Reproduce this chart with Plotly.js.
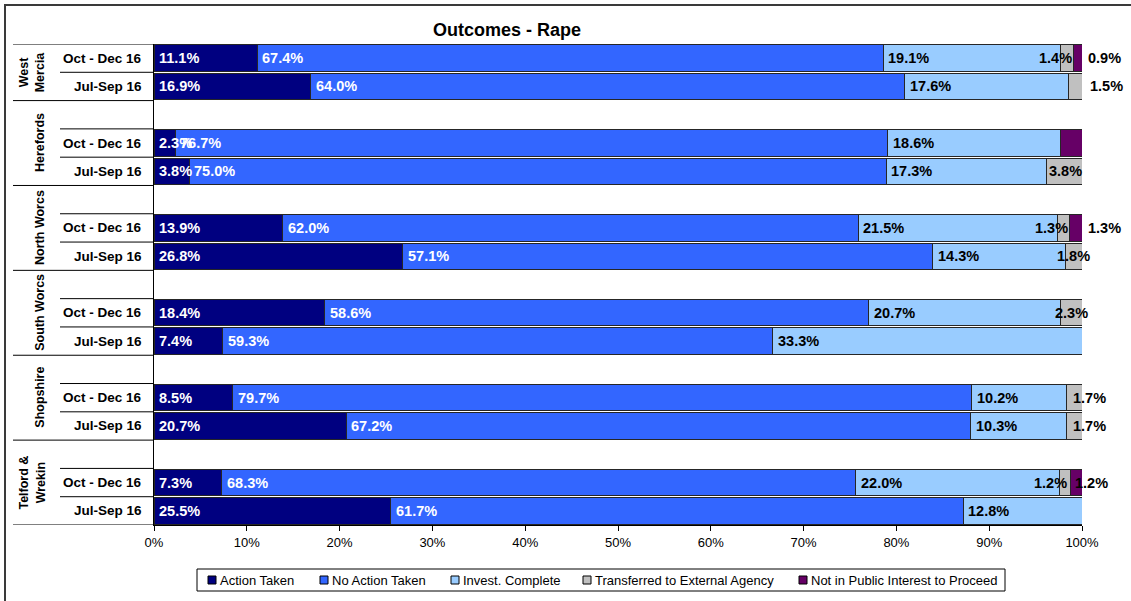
<!DOCTYPE html>
<html>
<head>
<meta charset="utf-8">
<script src="https://cdn.plot.ly/plotly-3.0.1.min.js"></script>
<style>
  html, body { margin: 0; padding: 0; background: #ffffff; }
  #chart { width: 1131px; height: 601px; }
</style>
</head>
<body>
<div id="chart"></div>
<script>
// ---------------- DATA ----------------
const chartTitle = "Outcomes - Rape";
const groups = ["West Mercia", "Herefords", "North Worcs", "South Worcs", "Shopshire", "Telford & Wrekin"];
const groupLabels = ["West<br>Mercia", "Herefords", "North Worcs", "South Worcs", "Shopshire", "Telford &<br>Wrekin"];
const periods = ["Oct - Dec 16", "Jul-Sep 16"];
const seriesNames = ["Action Taken", "No Action Taken", "Invest. Complete", "Transferred to External Agency", "Not in Public Interest to Proceed"];
// rows: for each group, Oct - Dec 16 then Jul-Sep 16
const actionTaken       = [11.1, 16.9,  2.3,  3.8, 13.9, 26.8, 18.4,  7.4,  8.5, 20.7,  7.3, 25.5];
const noActionTaken     = [67.4, 64.0, 76.7, 75.0, 62.0, 57.1, 58.6, 59.3, 79.7, 67.2, 68.3, 61.7];
const investComplete    = [19.1, 17.6, 18.6, 17.3, 21.5, 14.3, 20.7, 33.3, 10.2, 10.3, 22.0, 12.8];
const transferred       = [ 1.4,  1.5,  0.0,  3.8,  1.3,  1.8,  2.3,  0.0,  1.7,  1.7,  1.2,  0.0];
const notPublicInterest = [ 0.9,  0.0,  2.3,  0.0,  1.3,  0.0,  0.0,  0.0,  0.0,  0.0,  1.2,  0.0];
const xTickValues = [0, 10, 20, 30, 40, 50, 60, 70, 80, 90, 100];
const xTickLabels = ["0%", "10%", "20%", "30%", "40%", "50%", "60%", "70%", "80%", "90%", "100%"];

// ---------------- STYLE / PLACEMENT ----------------
const seriesColors = ["#000080", "#3366FF", "#99CCFF", "#C0C0C0", "#660066"];
const labelColors  = ["#FFFFFF", "#FFFFFF", "#000000", "#000000", "#000000"];
const FONT = "Liberation Sans, Arial, Helvetica, sans-serif";
// special placement of data labels for narrow segments: key "row-series"
const labelPlacement = {
  "0-3": {at: "end", shift: 0},
  "0-4": {at: "outside", shift: 4},
  "1-3": {at: "outside", shift: 6},
  "2-4": {hide: true},
  "3-3": {at: "start", shift: 0},
  "4-3": {at: "end", shift: 0},
  "4-4": {at: "outside", shift: 4},
  "5-3": {at: "center", shift: 0},
  "6-3": {at: "center", shift: 0},
  "8-3": {at: "start", shift: 5},
  "9-3": {at: "start", shift: 5},
  "10-3": {at: "end", shift: -2},
  "10-4": {at: "start", shift: 2}
};
// custom legend geometry (pixels)
const legendBox = {x0: 197, x1: 1005, y0: 569, y1: 591};
const legendItemX = [208, 320, 451, 583, 799];

// plot area in pixels
const W = 1131, H = 601;
const PL = 154, PR = 1082, PT = 44, PB = 525;
const px2x = p => (p - PL) / (PR - PL);
const py2y = p => (PB - p) / (PB - PT);

// ---------------- BUILD ----------------
const seriesValues = [actionTaken, noActionTaken, investComplete, transferred, notPublicInterest];

// row keys & category order (with blank spacer slot before each group except the first)
const rowKeys = [];
const categoryOrder = [];
const groupStartIndex = [];
groups.forEach((g, gi) => {
  if (gi > 0) categoryOrder.push("spacer " + gi);
  groupStartIndex.push(categoryOrder.length);
  periods.forEach(p => {
    const k = g + " | " + p;
    rowKeys.push(k);
    categoryOrder.push(k);
  });
});

const traces = seriesValues.map((vals, si) => ({
  type: "bar",
  orientation: "h",
  name: seriesNames[si],
  x: vals,
  y: rowKeys,
  marker: {color: seriesColors[si], line: {color: "#262626", width: 1}},
  showlegend: false,
  hoverinfo: "skip"
}));

const annotations = [];
const shapes = [];

// data labels
rowKeys.forEach((k, ri) => {
  const total = seriesValues.reduce((s, arr) => s + arr[ri], 0);
  let cum = 0;
  seriesValues.forEach((arr, si) => {
    const v = arr[ri];
    const start = cum / total * 100;
    cum += v;
    const end = cum / total * 100;
    if (v <= 0) return;
    const pl = labelPlacement[ri + "-" + si] || {at: "start", shift: 3};
    if (pl.hide) return;
    let x = start, xanchor = "left", color = labelColors[si];
    if (pl.at === "end") { x = end; xanchor = "right"; }
    else if (pl.at === "center") { x = (start + end) / 2; xanchor = "center"; }
    else if (pl.at === "outside") { x = 100; xanchor = "left"; color = "#000000"; }
    annotations.push({
      x: x, y: k, xref: "x", yref: "y",
      text: v.toFixed(1) + "%",
      showarrow: false, xanchor: xanchor, yanchor: "middle",
      xshift: pl.shift || 0,
      font: {family: FONT, size: 14.5, color: color, weight: "bold"}
    });
  });
});

// period labels
rowKeys.forEach((k, ri) => {
  annotations.push({
    x: px2x(144), y: k, xref: "paper", yref: "y",
    text: periods[ri % 2], showarrow: false, xanchor: "right", yanchor: "middle",
    font: {family: FONT, size: 13.5, color: "#000000", weight: "bold"}
  });
});

// group labels (rotated) and separator lines
groups.forEach((g, gi) => {
  const s = groupStartIndex[gi];
  const firstSlot = gi === 0 ? s : s - 1;
  const lastSlot = s + 1;
  annotations.push({
    x: px2x(49), y: (firstSlot + lastSlot) / 2, xref: "paper", yref: "y",
    text: groupLabels[gi], showarrow: false, textangle: -90,
    xanchor: "right", yanchor: "middle",
    font: {family: FONT, size: 12.5, color: "#000000", weight: "bold"}
  });
  // full group bottom line
  shapes.push({type: "line", xref: "paper", yref: "y", x0: px2x(13), x1: 0,
    y0: lastSlot + 0.5, y1: lastSlot + 0.5, line: {color: "#000000", width: 1}});
  // inner lines
  const inner = gi === 0 ? [s + 0.5] : [s - 0.5, s + 0.5];
  inner.forEach(yv => shapes.push({type: "line", xref: "paper", yref: "y", x0: px2x(60), x1: 0,
    y0: yv, y1: yv, line: {color: "#000000", width: 1}}));
});
// top line of the label area
shapes.push({type: "line", xref: "paper", yref: "y", x0: px2x(13), x1: 0, y0: -0.5, y1: -0.5,
  line: {color: "#000000", width: 1}});

// outer frame (left and top edges; others fall outside the picture)
shapes.push({type: "path", xref: "paper", yref: "paper",
  path: "M " + px2x(5) + " " + py2y(610) + " L " + px2x(5) + " " + py2y(5) + " L " + px2x(1140) + " " + py2y(5),
  line: {color: "#3a3a3a", width: 2}});

// custom legend
shapes.push({type: "rect", xref: "paper", yref: "paper",
  x0: px2x(legendBox.x0), x1: px2x(legendBox.x1), y0: py2y(legendBox.y1), y1: py2y(legendBox.y0),
  line: {color: "#000000", width: 1}, fillcolor: "rgba(0,0,0,0)"});
seriesNames.forEach((n, si) => {
  const lx = legendItemX[si];
  const cy = (legendBox.y0 + legendBox.y1) / 2;
  shapes.push({type: "rect", xref: "paper", yref: "paper",
    x0: px2x(lx), x1: px2x(lx + 8), y0: py2y(cy + 4), y1: py2y(cy - 4),
    line: {color: "#000000", width: 1}, fillcolor: seriesColors[si]});
  annotations.push({
    x: px2x(lx + 10), y: py2y(cy), xref: "paper", yref: "paper",
    text: n, showarrow: false, xanchor: "left", yanchor: "middle",
    font: {family: FONT, size: 13, color: "#000000"}
  });
});

const layout = {
  width: W, height: H,
  margin: {l: PL, r: W - PR, t: PT, b: H - PB, pad: 0},
  paper_bgcolor: "#ffffff", plot_bgcolor: "#ffffff",
  barmode: "stack", barnorm: "percent", bargap: 0.07,
  showlegend: false,
  hovermode: false,
  title: {
    text: chartTitle, x: 507 / W, xanchor: "center", xref: "container",
    y: 1 - 30 / H, yanchor: "middle", yref: "container",
    font: {family: FONT, size: 18, color: "#000000", weight: "bold"}
  },
  xaxis: {
    range: [0, 100], tickvals: xTickValues, ticktext: xTickLabels,
    showgrid: false, zeroline: false, showline: true, linecolor: "#000000", linewidth: 1,
    ticks: "outside", ticklen: 5, tickcolor: "#000000", tickwidth: 1,
    tickfont: {family: FONT, size: 13, color: "#000000"}, fixedrange: true
  },
  yaxis: {
    type: "category", categoryorder: "array", categoryarray: categoryOrder,
    range: [categoryOrder.length - 0.5, -0.5],
    showticklabels: false, ticks: "", showgrid: false, zeroline: false,
    showline: true, linecolor: "#000000", linewidth: 1, fixedrange: true
  },
  annotations: annotations,
  shapes: shapes
};

Plotly.newPlot("chart", traces, layout, {staticPlot: true, displayModeBar: false});
</script>
</body>
</html>
